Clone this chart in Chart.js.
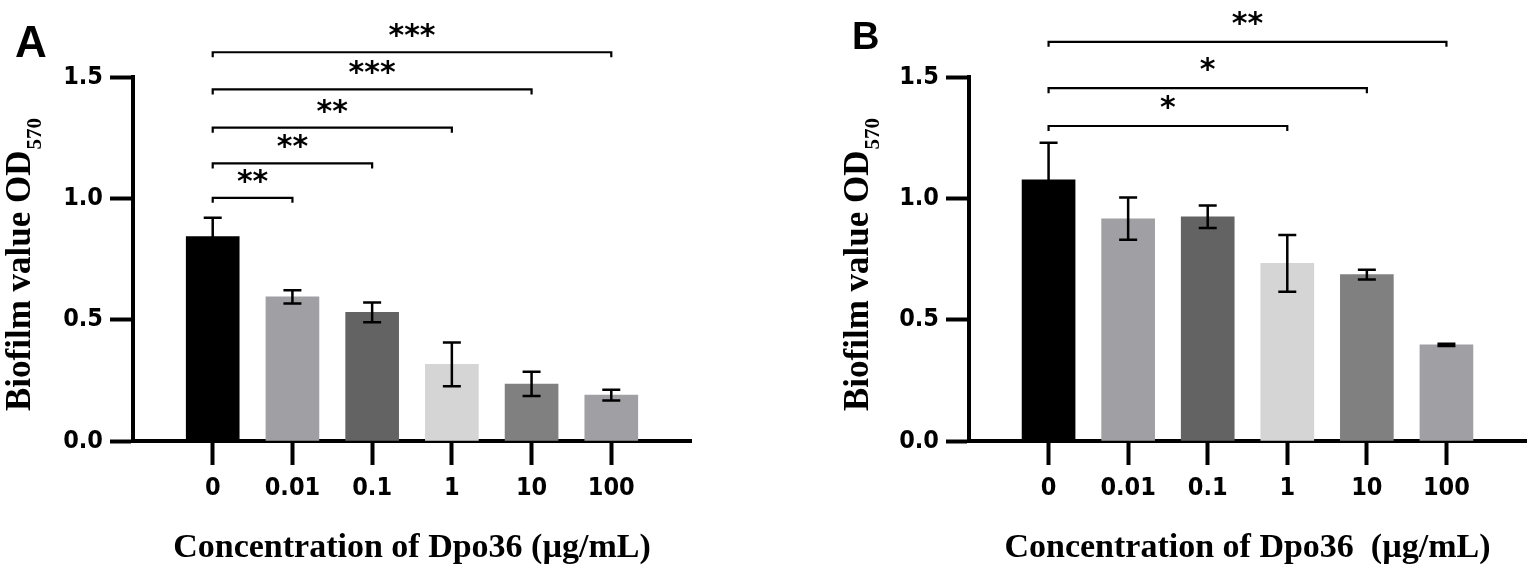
<!DOCTYPE html>
<html lang="en">
<head>
<meta charset="UTF-8">
<title>Biofilm OD570 - Dpo36</title>
<script src="https://cdn.jsdelivr.net/npm/chart.js"></script>
<style>
    body { margin: 0; background: #fff; }
    .wrap { position: relative; width: 1536px; height: 571px; }
    .panel { position: absolute; top: 0; width: 768px; height: 571px; }
</style>
</head>
<body>
<div class="wrap">
    <div class="panel" style="left: 0;"><canvas id="chartA"></canvas></div>
    <div class="panel" style="left: 768px;"><canvas id="chartB"></canvas></div>
</div>

<script>
    // data
    const concentrations = ['0', '0.01', '0.1', '1', '10', '100'];
    const barColors = ['#000000', '#a0a0a4', '#636363', '#d5d5d5', '#808080', '#a0a0a4'];

    const meanA = [0.842, 0.594, 0.530, 0.316, 0.235, 0.189];
    const sdA   = [0.078, 0.027, 0.041, 0.090, 0.050, 0.022];
    const meanB = [1.076, 0.916, 0.924, 0.732, 0.686, 0.396];
    const sdB   = [0.153, 0.087, 0.046, 0.117, 0.020, 0.005];

    // significance brackets (all compared with the 0 group)
    const sigToA    = ['0.01', '0.1', '1', '10', '100'];
    const sigStarsA = ['**', '**', '**', '***', '***'];
    const sigLevelA = [1.002, 1.144, 1.291, 1.449, 1.602];
    const sigToB    = ['1', '10', '100'];
    const sigStarsB = ['*', '*', '**'];
    const sigLevelB = [1.298, 1.454, 1.645];

    const yTicks = [0, 0.5, 1.0, 1.5];

    // empty slots at both ends so the bars sit one step away from the axes
    const labels = [''].concat(concentrations, ['']);

    const extras = {
        id: 'extras',
        afterDatasetsDraw(chart, args, opts) {
            const ctx = chart.ctx;
            const xs = chart.scales.x, ys = chart.scales.y;
            const meta = chart.getDatasetMeta(0);
            const data = chart.data.datasets[0].data;
            ctx.save();
            ctx.strokeStyle = '#000';
            ctx.fillStyle = '#000';

            // error bars
            ctx.lineWidth = 2.5;
            opts.sd.forEach((e, i) => {
                const idx = i + 1;
                const bx = meta.data[idx].x;
                const top = ys.getPixelForValue(data[idx] + e);
                const bot = ys.getPixelForValue(data[idx] - e);
                ctx.beginPath();
                ctx.moveTo(bx, top); ctx.lineTo(bx, bot);
                ctx.moveTo(bx - 9, top); ctx.lineTo(bx + 9, top);
                ctx.moveTo(bx - 9, bot); ctx.lineTo(bx + 9, bot);
                ctx.stroke();
            });

            // significance brackets
            ctx.lineWidth = 2.2;
            ctx.font = 'bold 30px "DejaVu Sans"';
            ctx.textAlign = 'center';
            ctx.textBaseline = 'alphabetic';
            const x0 = xs.getPixelForValue(labels.indexOf('0'));
            opts.sigTo.forEach((to, i) => {
                const x1 = xs.getPixelForValue(labels.indexOf(to));
                const yy = ys.getPixelForValue(opts.sigLevel[i]);
                ctx.beginPath();
                ctx.moveTo(x0, yy + 5); ctx.lineTo(x0, yy);
                ctx.lineTo(x1, yy); ctx.lineTo(x1, yy + 5);
                ctx.stroke();
                ctx.fillText(opts.sigStars[i], (x0 + x1) / 2, yy - opts.starGap);
            });
            ctx.restore();
        },
        afterDraw(chart, args, opts) {
            const ctx = chart.ctx, area = chart.chartArea;
            ctx.save();
            ctx.fillStyle = '#000';

            // x title
            ctx.font = 'bold 34px "Liberation Serif"';
            ctx.textAlign = 'center';
            ctx.textBaseline = 'alphabetic';
            ctx.fillText(opts.xTitle, (area.left + area.right) / 2, chart.height - 14);

            // panel letter
            ctx.textAlign = 'left';
            ctx.font = 'bold ' + opts.letterSize + 'px "Liberation Sans"';
            ctx.fillText(opts.letter, opts.letterX, opts.letterY);

            // y title with subscript
            const main = 'Biofilm value OD', sub = '570';
            ctx.font = 'bold 35px "Liberation Serif"';
            const wMain = ctx.measureText(main).width;
            ctx.font = 'bold 21px "Liberation Serif"';
            const wSub = ctx.measureText(sub).width;
            ctx.translate(opts.yTitleX, (area.top + area.bottom) / 2 + 6);
            ctx.rotate(-Math.PI / 2);
            const start = -(wMain + wSub) / 2;
            ctx.font = 'bold 35px "Liberation Serif"';
            ctx.fillText(main, start, 0);
            ctx.font = 'bold 21px "Liberation Serif"';
            ctx.fillText(sub, start + wMain + 1, 11);
            ctx.restore();
        }
    };

    function makeChart(id, means, sds, cfg) {
        const tickFont = {family: '"DejaVu Sans Condensed", "DejaVu Sans"', size: 25, weight: 'bold'};
        return new Chart(document.getElementById(id), {
            type: 'bar',
            data: {
                labels: labels,
                datasets: [{
                    data: [null].concat(means, [null]),
                    backgroundColor: [null].concat(barColors, [null]),
                    borderWidth: 0,
                    barThickness: 53
                }]
            },
            options: {
                responsive: true,
                maintainAspectRatio: false,
                animation: false,
                layout: {padding: {left: 0, top: 77, right: cfg.padRight, bottom: 0}},
                plugins: {
                    legend: {display: false},
                    tooltip: {enabled: false},
                    extras: {
                        sd: sds,
                        sigTo: cfg.sigTo,
                        sigStars: cfg.sigStars,
                        sigLevel: cfg.sigLevel,
                        starGap: cfg.starGap,
                        xTitle: cfg.xTitle,
                        letter: cfg.letter,
                        letterX: cfg.letterX,
                        letterY: cfg.letterY,
                        letterSize: cfg.letterSize,
                        yTitleX: cfg.yTitleX
                    }
                },
                scales: {
                    x: {
                        offset: false,
                        z: 1,
                        afterFit: s => { s.height = 130; },
                        border: {color: '#000', width: 4},
                        grid: {
                            offset: false,
                            drawOnChartArea: false,
                            tickLength: 24,
                            tickWidth: 4,
                            color: c => (c.tick && c.tick.label) ? '#000' : 'rgba(0,0,0,0)'
                        },
                        ticks: {
                            autoSkip: false,
                            maxRotation: 0,
                            padding: 8,
                            color: '#000',
                            font: tickFont
                        }
                    },
                    y: {
                        min: 0,
                        max: 1.5,
                        afterFit: s => { s.width = cfg.yWidth; },
                        afterBuildTicks: s => { s.ticks = yTicks.map(v => ({value: v})); },
                        border: {color: '#000', width: 4},
                        grid: {drawOnChartArea: false, tickLength: 23, tickWidth: 4, color: '#000'},
                        ticks: {
                            padding: 7,
                            color: '#000',
                            font: tickFont,
                            callback: v => v.toFixed(1)
                        }
                    }
                }
            },
            plugins: [extras]
        });
    }

    makeChart('chartA', meanA, sdA, {
        yWidth: 133, padRight: 77,
        sigTo: sigToA, sigStars: sigStarsA, sigLevel: sigLevelA, starGap: 7,
        xTitle: 'Concentration of Dpo36 (\u00b5g/mL)',
        letter: 'A', letterX: 15, letterY: 57, letterSize: 44,
        yTitleX: 30
    });

    makeChart('chartB', meanB, sdB, {
        yWidth: 201, padRight: 10,
        sigTo: sigToB, sigStars: sigStarsB, sigLevel: sigLevelB, starGap: 9,
        xTitle: 'Concentration of Dpo36  (\u00b5g/mL)',
        letter: 'B', letterX: 84, letterY: 49, letterSize: 38,
        yTitleX: 100
    });
</script>
</body>
</html>
